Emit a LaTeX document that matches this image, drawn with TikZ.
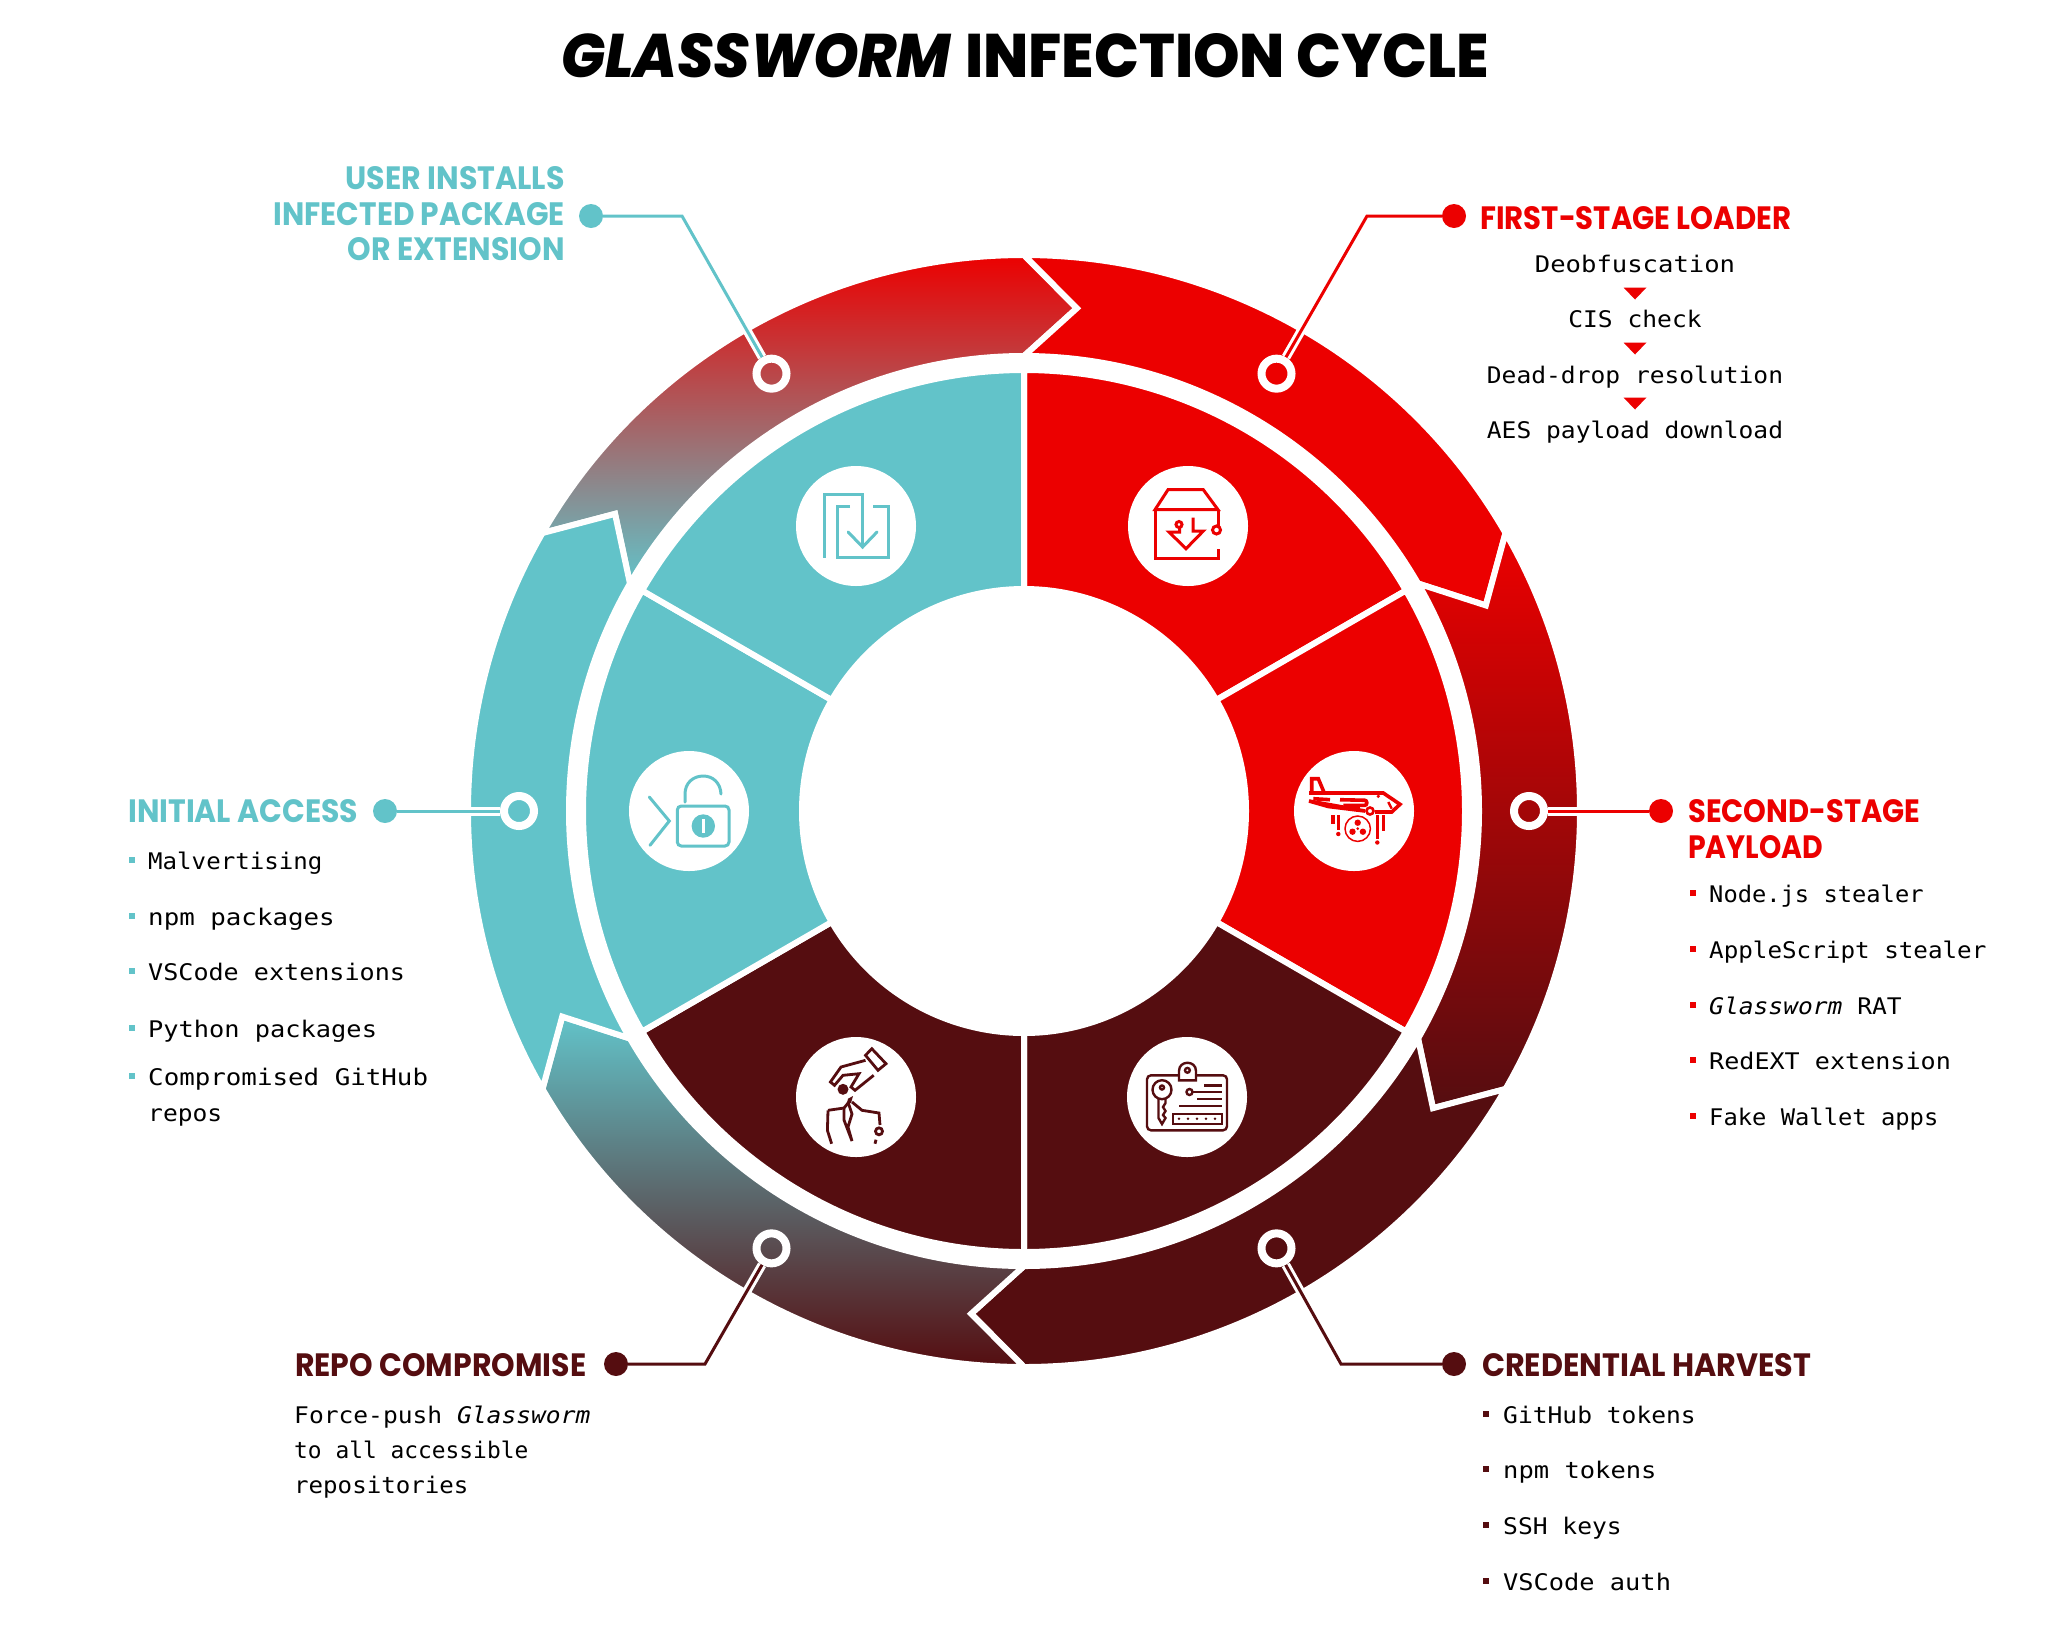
\documentclass[tikz,border=0pt]{standalone}
\usepackage{fontspec}
\usepackage{graphicx}
\newfontfamily\blackf[ItalicFont={Poppins ExtraBold Italic}]{Poppins ExtraBold}
\newfontfamily\headf{Poppins Bold}
\newfontfamily\monof{DejaVu Sans Mono}
\definecolor{wteal}{HTML}{62C3C9}
\definecolor{wred}{HTML}{EC0000}
\definecolor{wdark}{HTML}{550D10}
\newcommand{\segpath}[2]{(#1:556) arc[start angle=#1,end angle=#2,radius=556pt] -- ({#2-6}:505.5) -- (#2:455) arc[start angle=#2,end angle=#1,radius=455pt] -- ({#1-6}:505.5) -- cycle}
\newcommand{\secpath}[2]{(#1:441) arc[start angle=#1,end angle=#2,radius=441pt] -- (#2:222) arc[start angle=#2,end angle=#1,radius=222pt] -- cycle}
\newcommand{\hd}[2]{\resizebox{#1pt}{23pt}{\headf #2}}
\newcommand{\mt}[2]{\scalebox{#1}[0.93]{#2}}
\tikzset{
  x=1pt,y=1pt,
  gapline/.style={draw=white,line width=6pt,line join=miter},
  ringmark/.style={circle,draw=white,line width=8pt,minimum size=30pt,inner sep=0pt},
  dotmark/.style={circle,minimum size=24pt,inner sep=0pt},
  casing/.style={draw=white,line width=9pt},
  leader/.style={line width=3pt},
  badge/.style={circle,fill=white,minimum size=120pt,inner sep=0pt},
  head/.style={inner sep=0pt,anchor=base west},
  headr/.style={inner sep=0pt,anchor=base east},
  body/.style={inner sep=0pt,anchor=base west,font=\monof\fontsize{24.6}{30}\selectfont,text=black},
  bodyc/.style={inner sep=0pt,anchor=base,font=\monof\fontsize{24.6}{30}\selectfont,text=black},
  bullet/.style={rectangle,minimum size=6.5pt,inner sep=0pt},
  icon/.style={line width=2.6pt,line join=miter},
}
\begin{document}
\begin{tikzpicture}
\useasboundingbox (0,0) rectangle (2048,-1626);
% title
\node[head] (title1) at (561,-77) {\resizebox{391pt}{44pt}{\blackf\textit{GLASSWORM}}};
\node[head] (title2) at (965,-77) {\resizebox{524pt}{44pt}{\blackf INFECTION CYCLE}};

\begin{scope}[shift={(1024,-811)}]
  % inner sectors
  \path[gapline,fill=wred] \secpath{90}{30};
  \path[gapline,fill=wred] \secpath{30}{-30};
  \path[gapline,fill=wdark] \secpath{-30}{-90};
  \path[gapline,fill=wdark] \secpath{-90}{-150};
  \path[gapline,fill=wteal] \secpath{-150}{-210};
  \path[gapline,fill=wteal] \secpath{150}{90};
  % outer arrows
  \path[gapline,top color=wred,bottom color=wteal] \segpath{150}{90};
  \path[gapline,fill=wred] \segpath{90}{30};
  \path[gapline,top color=wred,bottom color=wdark] \segpath{30}{-30};
  \path[gapline,fill=wdark] \segpath{-30}{-90};
  \path[gapline,top color=wteal,bottom color=wdark] \segpath{-90}{-150};
  \path[gapline,fill=wteal] \segpath{-150}{-210};
  % rings
  \node[ringmark] (r1) at (120:505) {};
  \node[ringmark] (r2) at (60:505) {};
  \node[ringmark] (r3) at (0:505) {};
  \node[ringmark] (r4) at (-60:505) {};
  \node[ringmark] (r5) at (-120:505) {};
  \node[ringmark] (r6) at (180:505) {};
\end{scope}

% dots and elbows
\node[dotmark,fill=wteal] (d1) at (591,-216) {};
\coordinate (e1) at (682,-216);
\node[dotmark,fill=wred] (d2) at (1454,-216) {};
\coordinate (e2) at (1367,-216);
\node[dotmark,fill=wred] (d3) at (1661,-811) {};
\node[dotmark,fill=wdark] (d4) at (1454,-1364) {};
\coordinate (e4) at (1341,-1364);
\node[dotmark,fill=wdark] (d5) at (616,-1364) {};
\coordinate (e5) at (705,-1364);
\node[dotmark,fill=wteal] (d6) at (385,-811) {};

% leaders
\draw[casing] (e1) -- (r1);
\draw[casing] (e2) -- (r2);
\draw[casing] (d3) -- (r3);
\draw[casing] (e4) -- (r4);
\draw[casing] (e5) -- (r5);
\draw[casing] (d6) -- (r6);
\draw[leader,wteal] (d1) -- (e1) -- (r1);
\draw[leader,wred] (d2) -- (e2) -- (r2);
\draw[leader,wred] (d3) -- (r3);
\draw[leader,wdark] (d4) -- (e4) -- (r4);
\draw[leader,wdark] (d5) -- (e5) -- (r5);
\draw[leader,wteal] (d6) -- (r6);

% headings
\begin{scope}[text=wteal]
\node[headr] (h1a) at (565,-189) {\hd{219}{USER INSTALLS}};
\node[headr] (h1b) at (565,-225) {\hd{291}{INFECTED PACKAGE}};
\node[headr] (h1c) at (565,-260) {\hd{217}{OR EXTENSION}};
\node[head] (h6) at (128,-822) {\hd{230}{INITIAL ACCESS}};
\end{scope}
\begin{scope}[text=wred]
\node[head] (h2) at (1480,-229) {\hd{311}{FIRST-STAGE LOADER}};
\node[head] (h3a) at (1688,-822) {\hd{232}{SECOND-STAGE}};
\node[head] (h3b) at (1688,-858) {\hd{135}{PAYLOAD}};
\end{scope}
\begin{scope}[text=wdark]
\node[head] (h4) at (1482,-1376) {\hd{329}{CREDENTIAL HARVEST}};
\node[head] (h5) at (295,-1376) {\hd{291}{REPO COMPROMISE}};
\end{scope}

% first stage flow
\node[bodyc] (f1) at (1635,-272) {\mt{1.04}{Deobfuscation}};
\node[bodyc] (f2) at (1635,-327) {\mt{1}{CIS check}};
\node[bodyc] (f3) at (1635,-383) {\mt{1}{Dead-drop resolution}};
\node[bodyc] (f4) at (1635,-438) {\mt{1}{AES payload download}};
\fill[wred] (1623.5,-287.5) -- (1646.5,-287.5) -- (1635,-299.5) -- cycle;
\fill[wred] (1623.5,-342.5) -- (1646.5,-342.5) -- (1635,-354.5) -- cycle;
\fill[wred] (1623.5,-397.5) -- (1646.5,-397.5) -- (1635,-409.5) -- cycle;

% initial access list
\foreach \yy/\ss/\txt/\nn in {869/0.98/Malvertising/a,925/1.05/npm packages/b,980/1.02/VSCode extensions/c,1037/1.03/Python packages/d,1085/1.05/Compromised GitHub/e}{
  \node[bullet,fill=wteal] (ba\nn) at (132,{-\yy+9}) {};
  \node[body] (ta\nn) at (148,-\yy) {\mt{\ss}{\txt}};
}
\node[body] (taf) at (148,-1121) {\mt{1}{repos}};

% second stage list
\foreach \yy/\ss/\txt/\nn in {902/0.965/Node.js stealer/a,958/0.985/AppleScript stealer/b,1014/1/{\itshape Glassworm} RAT/c,1069/1.02/RedEXT extension/d,1125/0.967/Fake Wallet apps/e}{
  \node[bullet,fill=wred] (bb\nn) at (1693,{-\yy+9}) {};
  \node[body] (tb\nn) at (1709,-\yy) {\mt{\ss}{\txt}};
}

% credential list
\foreach \yy/\ss/\txt/\nn in {1423/1/GitHub tokens/a,1478/1.035/npm tokens/b,1534/1/SSH keys/c,1590/1.03/VSCode auth/d}{
  \node[bullet,fill=wdark] (bc\nn) at (1486,{-\yy+9}) {};
  \node[body] (tc\nn) at (1503,-\yy) {\mt{\ss}{\txt}};
}

% repo text
\node[body] (td1) at (294,-1423) {\mt{1}{Force-push {\itshape Glassworm}}};
\node[body] (td2) at (294,-1458) {\mt{0.93}{to all accessible}};
\node[body] (td3) at (294,-1493) {\mt{0.98}{repositories}};

% badges
\node[badge] (ic1) at (856,-526) {};
\node[badge] (ic2) at (1188,-526) {};
\node[badge] (ic3) at (1354,-811) {};
\node[badge] (ic4) at (1187,-1097) {};
\node[badge] (ic5) at (856,-1097) {};
\node[badge] (ic6) at (689,-811) {};

% icon: document with arrow
\begin{scope}[shift={(856,-526)},yscale=-1,icon,wteal,line width=3pt]
  \draw (-31.5,31.7) -- (-31.5,-31.7) -- (6.6,-31.7) -- (6.6,20);
  \draw (-5.8,-19.7) -- (-19,-19.7) -- (-19,31.7) -- (32.8,31.7) -- (32.8,-19.7) -- (17.4,-19.7);
  \draw[line cap=round] (-7.9,6) -- (6.6,21) -- (21,6);
\end{scope}

% icon: box with download
\begin{scope}[shift={(1188,-526)},yscale=-1,icon,wred,line width=3pt]
  \draw (-33,-16.3) -- (-20,-36.3) -- (15.3,-36.3) -- (30,-16.3) -- cycle;
  \draw (-33,-16.3) -- (-33,32.7) -- (30,32.7) -- (30,22.7);
  \draw (30,-16.3) -- (30,-0.5);
  \draw (28.5,4) circle[radius=4];
  \draw (5,-8.3) -- (5,5) -- (15.3,5) -- (-2,22.7) -- (-19,6) -- (-8.3,6) -- (-8.3,2);
  \draw (-9,-1.5) circle[radius=3];
\end{scope}

% icon: plane with biohazard
\begin{scope}[shift={(1354,-811)},yscale=-1,icon,wred,line width=3.6pt]
  \draw (-45,-18) -- (29.3,-18) -- (46,-6.7) -- (37.7,1) -- (21,1);
  \draw (11,0) -- (-25.7,-4.5) -- (-45,-10) -- cycle;
  \draw (-42.3,-18) -- (-42.3,-32.3) -- (-35.7,-32.3) -- (-29.7,-18);
  \draw (-40.7,-12.3) -- (-24,-11.3);
  \draw[rounded corners=2pt] (-14,-11.3) -- (12.7,-10.7) -- (12.7,-5.7) -- (-10.7,-5.7);
  \draw (-5.7,-2.3) -- (6,-2.3);
  \fill (24.3,-14.7) circle[radius=1.8];
  \draw[line width=2.4pt] (34.3,-9) -- (37.7,-2.3);
  \draw[fill=white,line width=2.6pt] (16,0) circle[radius=3.5];
  \draw (-21.3,4.3) -- (-21.3,12.7);
  \draw (-15.7,4.3) -- (-15.7,18.7);
  \fill (-15.7,23) circle[radius=2.2];
  \draw (29.3,4.3) -- (29.3,20);
  \draw (23.3,4.3) -- (23.3,27.7);
  \fill (23.3,31.5) circle[radius=2.2];
  \draw[line width=1.5pt] (3.7,17.7) circle[radius=12.7];
  \begin{scope}[shift={(3.7,17.7)}]
    \fill (0,-6) circle[radius=3.2];
    \fill (-5.2,3) circle[radius=3.2];
    \fill (5.2,3) circle[radius=3.2];
    \fill (0,0) circle[radius=1.5];
  \end{scope}
\end{scope}

% icon: credentials card
\begin{scope}[shift={(1187,-1097)},yscale=-1,icon,wdark,line width=2.4pt]
  \draw[rounded corners=4pt] (-40,-21.7) rectangle (40,33.3);
  \draw[fill=white] (-8,-16.7) -- (-8,-26) .. controls (-8,-37) and (9,-37) .. (9,-26) -- (9,-16.7) -- cycle;
  \draw (0.4,-26.7) circle[radius=2.4];
  \draw (-25,-7.3) circle[radius=9.5];
  \draw (-25,-9.5) circle[radius=2];
  \draw (-28.5,1.7) -- (-28.5,21) -- (-25,27) -- (-21.5,21) -- (-24,18) -- (-21.5,14) -- (-24,10) -- (-21.5,6) -- (-21.5,1.7);
  \draw (17.4,-11.7) -- (34.8,-11.7);
  \draw (2.5,-5) circle[radius=3];
  \draw (5.8,-5) -- (34.8,-5);
  \draw (10,1.7) -- (34.8,1.7);
  \draw (-8,9) -- (34.8,9);
  \draw (-14,16.7) rectangle (34.8,26.7);
  \foreach \dx in {-8,1,10,19,28}{\fill (\dx,21.7) circle[radius=1.4];}
\end{scope}

% icon: hand taking tie
\begin{scope}[shift={(856,-1097)},yscale=-1,icon,wdark,line width=2.8pt]
  \draw (9.5,-41.7) -- (15.8,-48.3) -- (30,-33.3) -- (22,-26.7) -- cycle;
  \draw (9.5,-36.7) -- (-15,-30) -- (-25.6,-15) -- (-21.5,-11.7) -- (-13,-21.7) -- (3,-23.3) -- (-5,-10) -- (-1,-6.7) -- (17.7,-21.7);
  \fill (-13,-7.7) circle[radius=5.5];
  \fill (-8,1.7) -- (-3,-1) -- (-5,6) -- (-9,6) -- cycle;
  \draw (-28,13.3) -- (-12,11) -- (-7,5);
  \draw (-4,5) -- (6,13.3) -- (23,16) -- (24,28);
  \draw (23,34.3) circle[radius=3.5];
  \draw (20,42.7) -- (19,46.7);
  \draw (-28,13.3) -- (-28.6,33.3) -- (-24.4,46.7);
  \draw (-12,11) -- (-12,23) -- (-4,44) -- (-8,30) -- (-4,17) -- (-8,5);
\end{scope}

% icon: prompt and open lock
\begin{scope}[shift={(689,-811)},yscale=-1,icon,wteal,line width=3pt]
  \draw[line cap=round] (-39.7,-14) -- (-19.7,10) -- (-39,34.3);
  \draw[rounded corners=4pt] (-11.7,-5) rectangle (40,35);
  \draw[line cap=round] (-4,-9) -- (-4,-17) .. controls (-4,-28) and (4,-35) .. (14.3,-35) .. controls (24,-35) and (31.5,-28) .. (32,-17);
  \fill (14.3,15) circle[radius=11.7];
  \fill[white] (12.6,8) rectangle (16,22);
\end{scope}
\end{tikzpicture}
\end{document}
